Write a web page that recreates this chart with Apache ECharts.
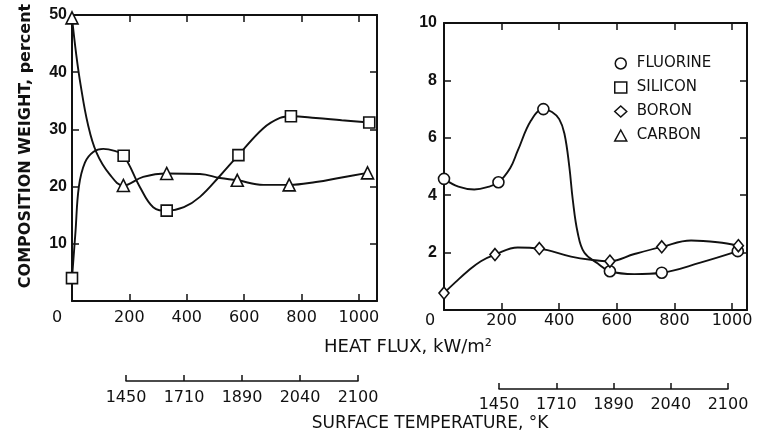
<!DOCTYPE html>
<html><head><meta charset="utf-8">
<script src="https://cdn.jsdelivr.net/npm/echarts@6/dist/echarts.min.js"></script>
<style>html,body{margin:0;padding:0;background:#fff}#c{width:765px;height:437px}</style>
</head><body><div id="c"></div>
<script>
// ---------- data ----------
const tempTickLabels = ['1450', '1710', '1890', '2040', '2100'];

// left panel: markers
const siliconFlux = [0, 180, 330, 580, 763, 1036];
const siliconWt   = [4, 25.4, 15.8, 25.5, 32.3, 31.2];
const carbonFlux  = [0, 179, 330, 576, 757, 1030];
const carbonWt    = [49.5, 20.2, 22.3, 21.1, 20.3, 22.4];
// left panel: drawn curves
const siliconCurveFlux = [0, 12, 24, 45, 75, 109, 145, 180, 237, 283, 330, 390, 446, 516, 580, 667, 725, 763, 850, 940, 1036];
const siliconCurveWt   = [4, 12, 20, 24.2, 26.1, 26.6, 26.3, 25.4, 19.9, 16.4, 15.8, 16.4, 18.2, 21.9, 25.5, 30.2, 32.0, 32.3, 32.0, 31.6, 31.2];
const carbonCurveFlux  = [0, 15, 30, 55, 85, 132, 179, 248, 330, 446, 516, 576, 667, 757, 850, 940, 1030];
const carbonCurveWt    = [49.5, 43, 37.8, 31, 26, 22.1, 20.2, 21.7, 22.3, 22.2, 21.5, 21.1, 20.3, 20.3, 20.8, 21.6, 22.4];

// right panel: markers
const fluorineFlux = [0, 189, 345, 576, 756, 1020];
const fluorineWt   = [4.57, 4.45, 7.0, 1.35, 1.3, 2.05];
const boronFlux    = [0, 177, 331, 576, 756, 1022];
const boronWt      = [0.59, 1.93, 2.14, 1.7, 2.2, 2.24];
// right panel: drawn curves
const fluorineCurveFlux = [0, 50, 105, 150, 189, 230, 256, 302, 345, 375, 400, 418, 435, 447, 464, 487, 534, 576, 661, 756, 890, 1020];
const fluorineCurveWt   = [4.57, 4.3, 4.2, 4.28, 4.45, 4.95, 5.55, 6.6, 7.0, 6.9, 6.65, 6.15, 5.0, 3.85, 2.7, 2.0, 1.62, 1.35, 1.25, 1.3, 1.65, 2.05];
const boronCurveFlux    = [0, 40, 82, 128, 177, 256, 331, 441, 510, 576, 661, 756, 858, 950, 1022];
const boronCurveWt      = [0.59, 0.97, 1.35, 1.7, 1.93, 2.18, 2.14, 1.86, 1.75, 1.7, 1.95, 2.2, 2.42, 2.36, 2.24];

// ---------- styling ----------
const FONT = 'DejaVu Sans';
const INK = '#111111';
const pairs = (xs, ys) => xs.map((x, i) => [x, ys[i]]);

function fluxFormatter(v) {
  if (v === 0) return '{z|0}';
  return (v % 200 === 0) ? String(v) : '';
}
function xAxisDef(grid, pos, max, showLabel, margin, zpad) {
  return {
    gridIndex: grid, type: 'value', position: pos, min: 0, max: max, interval: 200,
    axisLine: { show: true, onZero: false, lineStyle: { color: INK, width: 2 } },
    axisTick: { show: true, inside: true, length: 7, lineStyle: { color: INK, width: 1.5 } },
    splitLine: { show: false },
    axisLabel: {
      show: showLabel, margin: margin, color: INK, fontFamily: FONT, fontSize: 16,
      showMaxLabel: false, formatter: fluxFormatter,
      rich: { z: { padding: [0, zpad, 0, 0], color: INK, fontFamily: FONT, fontSize: 16 } }
    }
  };
}
function yAxisDef(grid, pos, max, interval, showLabel, margin, extra) {
  return Object.assign({
    gridIndex: grid, type: 'value', position: pos, min: 0, max: max, interval: interval,
    axisLine: { show: true, onZero: false, lineStyle: { color: INK, width: 2 } },
    axisTick: { show: true, inside: true, length: 7, lineStyle: { color: INK, width: 1.5 } },
    splitLine: { show: false },
    axisLabel: {
      show: showLabel, margin: margin, color: INK, fontFamily: 'Liberation Sans', fontWeight: 'bold', fontSize: 16,
      formatter: v => (v === 0 ? '' : String(v))
    }
  }, extra || {});
}
function tempAxisDef(grid, margin) {
  return {
    gridIndex: grid, type: 'category', data: tempTickLabels, boundaryGap: false, position: 'bottom',
    axisLine: { show: true, lineStyle: { color: INK, width: 1.5 } },
    axisTick: { show: true, inside: true, length: 6, lineStyle: { color: INK, width: 1.5 } },
    axisLabel: { margin: margin, color: INK, fontFamily: FONT, fontSize: 16, interval: 0 },
    splitLine: { show: false }
  };
}
function curve(name, xi, yi, xs, ys) {
  return { name: name, type: 'line', xAxisIndex: xi, yAxisIndex: yi, data: pairs(xs, ys),
    smooth: 0.4, symbol: 'none', silent: true, lineStyle: { color: INK, width: 1.9 }, z: 3 };
}
function marks(name, xi, yi, xs, ys, symbol, size) {
  return { name: name, type: 'scatter', xAxisIndex: xi, yAxisIndex: yi, data: pairs(xs, ys),
    symbol: symbol, symbolSize: size, itemStyle: { color: '#fff', borderColor: INK, borderWidth: 1.6, opacity: 1 }, z: 5 };
}

const chart = echarts.init(document.getElementById('c'), null, { renderer: 'canvas' });
chart.setOption({
  backgroundColor: '#fff',
  animation: false,
  grid: [
    { left: 72, top: 15, width: 305, height: 286 },
    { left: 444, top: 23, width: 303, height: 287 },
    { left: 126, top: 372, width: 232, height: 9 },
    { left: 499, top: 380, width: 229, height: 9 }
  ],
  xAxis: [
    xAxisDef(0, 'bottom', 1063, true, 9, 30),
    xAxisDef(0, 'top', 1063, false, 8, 0),
    xAxisDef(1, 'bottom', 1052, true, 3, 28),
    xAxisDef(1, 'top', 1052, false, 8, 0),
    tempAxisDef(2, 9),
    tempAxisDef(3, 8)
  ],
  yAxis: [
    yAxisDef(0, 'left', 50, 10, true, 5, {
      name: 'COMPOSITION WEIGHT, percent', nameLocation: 'middle', nameGap: 38, nameRotate: 90,
      nameTextStyle: { color: INK, fontFamily: FONT, fontWeight: 'bold', fontSize: 16, padding: [0, 0, 0, 24] }
    }),
    yAxisDef(0, 'right', 50, 10, false, 5),
    yAxisDef(1, 'left', 10, 2, true, 7),
    yAxisDef(1, 'right', 10, 2, false, 7),
    { gridIndex: 2, type: 'value', show: false },
    { gridIndex: 3, type: 'value', show: false }
  ],
  legend: {
    orient: 'vertical', left: 609, top: 51, itemGap: 9, itemWidth: 12, itemHeight: 11,
    selectedMode: false,
    textStyle: { color: INK, fontFamily: FONT, fontSize: 15, padding: [0, 0, 0, 5] },
    itemStyle: { color: '#fff', borderColor: INK, borderWidth: 1.5 },
    data: [
      { name: 'FLUORINE', icon: 'circle' },
      { name: 'SILICON', icon: 'rect' },
      { name: 'BORON', icon: 'diamond' },
      { name: 'CARBON', icon: 'triangle' }
    ]
  },
  graphic: [
    { type: 'text', x: 408, y: 347, style: { text: 'HEAT FLUX, kW/m²', fill: INK, font: '18px "DejaVu Sans"', textAlign: 'center', textVerticalAlign: 'middle' } },
    { type: 'text', x: 430, y: 424, style: { text: 'SURFACE TEMPERATURE, °K', fill: INK, font: '17px "DejaVu Sans"', textAlign: 'center', textVerticalAlign: 'middle' } }
  ],
  series: [
    curve('SILICON curve', 0, 0, siliconCurveFlux, siliconCurveWt),
    curve('CARBON curve', 0, 0, carbonCurveFlux, carbonCurveWt),
    curve('FLUORINE curve', 2, 2, fluorineCurveFlux, fluorineCurveWt),
    curve('BORON curve', 2, 2, boronCurveFlux, boronCurveWt),
    marks('SILICON', 0, 0, siliconFlux, siliconWt, 'rect', 11),
    marks('CARBON', 0, 0, carbonFlux, carbonWt, 'triangle', 12),
    marks('FLUORINE', 2, 2, fluorineFlux, fluorineWt, 'circle', 11),
    marks('BORON', 2, 2, boronFlux, boronWt, 'diamond', [10, 12])
  ]
});
</script></body></html>
